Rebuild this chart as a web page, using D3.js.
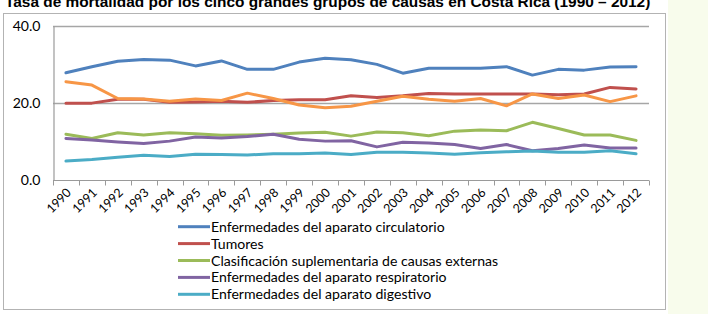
<!DOCTYPE html>
<html>
<head>
<meta charset="utf-8">
<script src="https://cdn.jsdelivr.net/npm/d3@7"></script>
<style>
	body { margin: 0; background: #fff; }
	svg { display: block; }
</style>
</head>
<body>
<svg id="chart" width="708" height="314"></svg>
<script>
// years on the x axis
var years = ["1990", "1991", "1992", "1993", "1994", "1995", "1996", "1997", "1998", "1999",
	"2000", "2001", "2002", "2003", "2004", "2005", "2006", "2007", "2008", "2009",
	"2010", "2011", "2012"];

// rates
var circulatorio = [27.8, 29.4, 30.8, 31.3, 31.1, 29.6, 30.9, 28.7, 28.7, 30.6,
	31.6, 31.2, 30.0, 27.7, 29.0, 29.0, 29.0, 29.4, 27.2, 28.7, 28.5, 29.3, 29.4];
var tumores = [19.9, 19.9, 20.9, 20.9, 20.1, 20.2, 20.4, 20.1, 20.6, 20.8,
	20.8, 21.8, 21.4, 21.8, 22.4, 22.3, 22.3, 22.3, 22.3, 22.1, 22.3, 24.0, 23.6];
var causasExternas = [11.8, 10.7, 12.2, 11.6, 12.2, 11.9, 11.5, 11.6, 11.8, 12.1,
	12.3, 11.3, 12.4, 12.2, 11.4, 12.6, 12.9, 12.7, 14.9, 13.3, 11.6, 11.6, 10.2];
var respiratorio = [10.7, 10.3, 9.8, 9.4, 10.0, 11.1, 10.8, 11.2, 11.8, 10.5,
	10.0, 10.1, 8.5, 9.7, 9.5, 9.1, 8.1, 9.1, 7.5, 8.1, 9.0, 8.2, 8.2];
var digestivo = [4.8, 5.2, 5.8, 6.3, 6.0, 6.6, 6.5, 6.4, 6.7, 6.7,
	6.9, 6.5, 7.1, 7.1, 6.9, 6.6, 7.0, 7.2, 7.4, 7.1, 7.1, 7.5, 6.7];
// sixth series drawn on the chart but left out of the legend
var sinLeyenda = [25.5, 24.6, 21.1, 21.0, 20.4, 21.0, 20.6, 22.5, 21.1, 19.4,
	18.7, 19.1, 20.4, 21.7, 20.9, 20.4, 21.1, 19.2, 22.3, 21.1, 22.0, 20.3, 21.8];

var yTicks = [0, 20, 40];

var title = "Tasa de mortalidad por los cinco grandes grupos de causas en Costa Rica (1990 \u2013 2012)";

var series = [
	{name: "Tumores", values: tumores, color: "#C0504D"},
	{name: "", values: sinLeyenda, color: "#F79646"},
	{name: "Enfermedades del aparato circulatorio", values: circulatorio, color: "#4F81BD"},
	{name: "Clasificación suplementaria de causas externas", values: causasExternas, color: "#9BBB59"},
	{name: "Enfermedades del aparato respiratorio", values: respiratorio, color: "#8064A2"},
	{name: "Enfermedades del aparato digestivo", values: digestivo, color: "#4BACC6"}
];
// which series show up in the legend, top to bottom
var legendOrder = [2, 0, 3, 4, 5];

var FONT = "Lato, 'Open Sans', sans-serif";

var svg = d3.select("#chart");

// light green strip to the right of the chart frame
svg.append("rect")
	.attr("x", 668).attr("y", 0)
	.attr("width", 40).attr("height", 314)
	.attr("fill", "#f8fcec");

// chart frame
svg.append("rect")
	.attr("x", 3.5).attr("y", 13.5)
	.attr("width", 662).attr("height", 296)
	.attr("fill", "#fff")
	.attr("stroke", "#b3b3b3");

// title, cut off at the top of the picture like in the original
var titleText = svg.append("text")
	.attr("x", 5).attr("y", 7)
	.attr("font-family", "'Liberation Sans', Arial, sans-serif")
	.attr("font-weight", "bold")
	.attr("font-size", "14px")
	.attr("fill", "#000")
	.text(title);
var tw = titleText.node().getComputedTextLength();
titleText.attr("font-size", (14 * 646 / tw) + "px");

// work out a font size that matches the legend text width
var probe = svg.append("text")
	.attr("font-family", FONT)
	.attr("font-size", "15px")
	.text("Enfermedades del aparato circulatorio");
var fontSize = 15 * 234 / probe.node().getComputedTextLength();
probe.remove();
var yearFontSize = fontSize * 0.88;

var x = d3.scaleBand().domain(years).range([53, 649]);
var y = d3.scaleLinear().domain([0, 40]).range([179.5, 26]);

// gridlines
svg.append("g")
	.selectAll("line")
	.data(yTicks.filter(function (d) { return d > 0; }))
	.join("line")
	.attr("x1", 53).attr("x2", 649)
	.attr("y1", function (d) { return Math.round(y(d)) + 0.5; })
	.attr("y2", function (d) { return Math.round(y(d)) + 0.5; })
	.attr("stroke", "#a6a6a6")
	.attr("stroke-width", 1.3);

// y axis
var yAxis = svg.append("g")
	.attr("transform", "translate(53.5,0)")
	.call(d3.axisLeft(y).tickValues(yTicks).tickSize(0).tickPadding(13)
		.tickFormat(d3.format(".1f")));
yAxis.select(".domain").attr("stroke", "#9a9a9a").attr("stroke-width", 1.2);
yAxis.selectAll("text")
	.attr("font-family", FONT)
	.attr("font-size", fontSize + "px")
	.attr("fill", "#000");

// x axis, ticks between the categories
var xAxis = svg.append("g")
	.attr("transform", "translate(0," + (Math.round(y(0)) + 0.5) + ")");
xAxis.append("line")
	.attr("x1", 53).attr("x2", 649)
	.attr("stroke", "#9a9a9a").attr("stroke-width", 1.2);
xAxis.selectAll("line.tick")
	.data(years.concat(["end"]))
	.join("line")
	.attr("class", "tick")
	.attr("x1", function (d, i) { return Math.round(x.range()[0] + i * x.bandwidth()) + 0.5; })
	.attr("x2", function (d, i) { return Math.round(x.range()[0] + i * x.bandwidth()) + 0.5; })
	.attr("y1", 0).attr("y2", 5)
	.attr("stroke", "#9a9a9a");
xAxis.selectAll("text")
	.data(years)
	.join("text")
	.attr("text-anchor", "end")
	.attr("font-family", FONT)
	.attr("font-size", yearFontSize + "px")
	.attr("fill", "#000")
	.attr("transform", function (d) {
		return "translate(" + (x(d) + x.bandwidth() / 2 + 6) + ",13) rotate(-45)";
	})
	.text(function (d) { return d; });

// lines
var line = d3.line()
	.x(function (d, i) { return x(years[i]) + x.bandwidth() / 2; })
	.y(function (d) { return y(d); });

svg.append("g")
	.selectAll("path")
	.data(series)
	.join("path")
	.attr("d", function (s) { return line(s.values); })
	.attr("fill", "none")
	.attr("stroke", function (s) { return s.color; })
	.attr("stroke-width", 3)
	.attr("stroke-linejoin", "round")
	.attr("stroke-linecap", "round");

// legend
var legend = svg.append("g");
var rowY = 226.7, rowStep = 16.9;
legendOrder.forEach(function (idx, row) {
	var s = series[idx];
	var cy = rowY + row * rowStep;
	legend.append("line")
		.attr("x1", 178).attr("x2", 210)
		.attr("y1", cy).attr("y2", cy)
		.attr("stroke", s.color)
		.attr("stroke-width", 3);
	legend.append("text")
		.attr("x", 211)
		.attr("y", cy + 5)
		.attr("font-family", FONT)
		.attr("font-size", fontSize + "px")
		.attr("fill", "#000")
		.text(s.name);
});
</script>
</body>
</html>
